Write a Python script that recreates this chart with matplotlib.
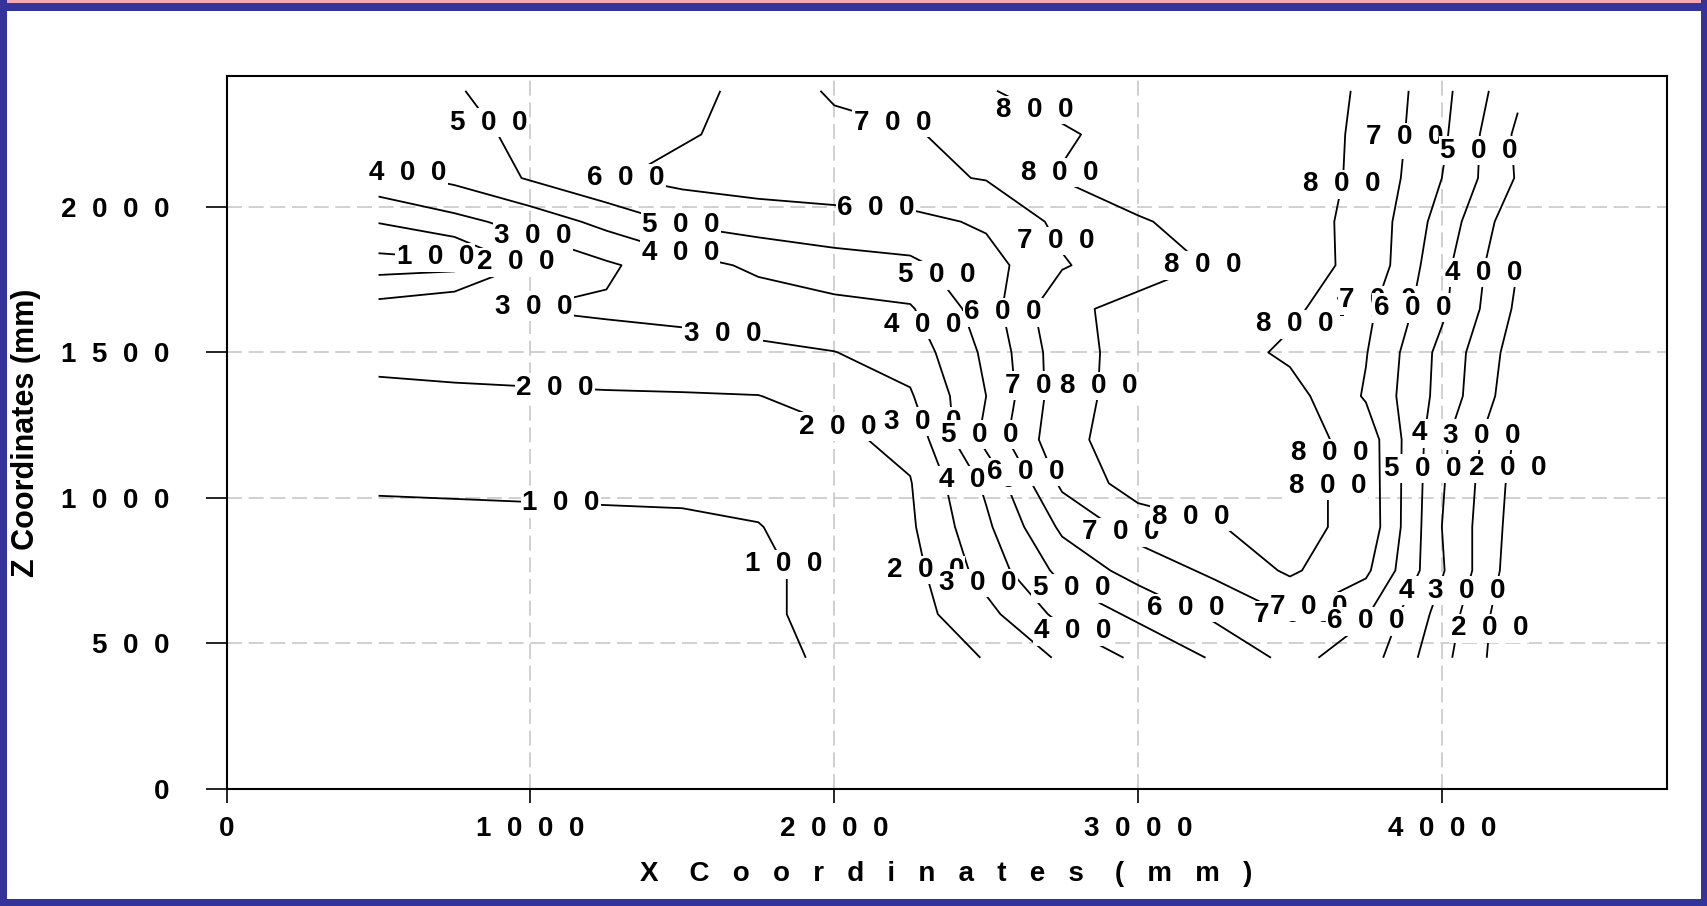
import numpy as np
import matplotlib
matplotlib.use("Agg")
import matplotlib.pyplot as plt
from matplotlib.patches import Rectangle

plt.rcParams['font.family'] = ['Liberation Sans', 'DejaVu Sans']
plt.rcParams['font.weight'] = 'bold'

# grid of the measured field (mm)
x_mm = [500, 750, 1000, 1250, 1500, 1750, 2000, 2250, 2500, 2750, 3000, 3250, 3500, 3750, 4000, 4250]
z_mm = [450, 600, 750, 900, 1050, 1200, 1350, 1500, 1650, 1800, 1950, 2100, 2250, 2400]

# temperature, one row per z value (bottom to top)
t_z450 = [40, 42, 44, 46, 48, 75, 115, 140, 205, 315, 420, 510, 630, 550, 330, 110]
t_z600 = [54, 56, 58, 60, 62, 88, 120, 160, 270, 430, 520, 620, 705, 610, 360, 110]
t_z750 = [68, 70, 72, 74, 76, 85, 125, 165, 340, 530, 640, 720, 815, 720, 410, 135]
t_z900 = [90, 91, 92, 93, 94, 97, 140, 185, 380, 620, 740, 795, 830, 770, 400, 150]
t_z1050 = [104, 105, 106, 107, 108, 125, 160, 195, 420, 720, 850, 845, 835, 765, 410, 160]
t_z1200 = [148, 150, 152, 155, 158, 165, 180, 225, 530, 775, 845, 850, 845, 760, 420, 185]
t_z1350 = [180, 183, 186, 190, 193, 198, 240, 290, 500, 760, 845, 855, 840, 690, 465, 230]
t_z1500 = [225, 238, 250, 262, 270, 282, 298, 340, 520, 760, 840, 850, 780, 705, 470, 250]
t_z1650 = [240, 285, 302, 312, 322, 345, 370, 390, 550, 785, 820, 830, 820, 725, 520, 280]
t_z1800 = [60, 70, 215, 285, 360, 420, 460, 480, 560, 690, 770, 805, 830, 780, 530, 300]
t_z1950 = [205, 270, 340, 430, 515, 545, 560, 570, 615, 725, 795, 820, 835, 775, 560, 330]
t_z2100 = [370, 425, 510, 590, 630, 650, 665, 680, 705, 805, 830, 845, 835, 785, 600, 390]
t_z2250 = [445, 480, 515, 550, 590, 630, 660, 690, 740, 790, 830, 850, 840, 785, 620, 380]
t_z2400 = [470, 495, 530, 560, 590, 610, 720, 760, 795, 830, 850, 850, 840, 790, 630, 420]

levels = [100, 200, 300, 400, 500, 600, 700, 800]

# rough spots where the labels sit
label_spots = [(814, 2251), (588, 2094), (1297, 2124), (1011, 1906), (688, 1843),
               (957, 1828), (1491, 1921), (1495, 1846), (1011, 1663), (1638, 1599),
               (1082, 1412), (1100, 996), (1799, 753), (2004, 1225), (2229, 1240),
               (2498, 1213), (2430, 1034), (2624, 1086), (2240, 738), (2462, 700),
               (2785, 697), (2785, 539), (3161, 629), (2946, 888), (3179, 963),
               (2194, 2300), (2659, 2330), (2140, 2045), (2695, 2131), (2749, 1895),
               (2326, 1757), (2516, 1629), (2240, 1569), (2680, 1386), (2849, 1386),
               (3294, 1850), (3591, 1539), (3652, 2082), (3789, 2225), (3914, 2236),
               (4093, 2195), (4100, 1779), (3692, 1682), (3760, 1690), (3914, 1652),
               (4020, 1225), (4100, 1225), (3645, 1139), (3710, 1150), (3914, 1101),
               (4219, 1101), (3602, 1041), (3995, 678), (4090, 678), (3509, 596),
               (3570, 610), (3789, 558), (4165, 551)]

temp = np.array([t_z450, t_z600, t_z750, t_z900, t_z1050, t_z1200, t_z1350,
                 t_z1500, t_z1650, t_z1800, t_z1950, t_z2100, t_z2250, t_z2400])


def spaced(v, sep='  '):
    return sep.join(str(int(v)))


fig = plt.figure(figsize=(17.08, 9.06), dpi=100)
W, H = 1708, 906


def band(x0, y0, w, h, color):
    # pixel box measured from the top-left corner
    fig.add_artist(Rectangle((x0 / W, 1 - (y0 + h) / H), w / W, h / H,
                             transform=fig.transFigure, color=color, lw=0, zorder=10))


ax = fig.add_axes([0.1327, 0.1296, 0.8431, 0.7862])

cs = ax.contour(x_mm, z_mm, temp, levels=levels, colors='black', linewidths=1.3)
texts = ax.clabel(cs, levels, fmt=spaced, manual=label_spots, inline=False, fontsize=20)
for t in texts:
    t.set_rotation(0)
    t.set_fontweight('bold')
    t.set_bbox(dict(facecolor='white', edgecolor='none', pad=1.0))
    t.set_zorder(5)

ax.set_xlim(0, 4740)
ax.set_ylim(0, 2450)

xt = [0, 1000, 2000, 3000, 4000]
zt = [0, 500, 1000, 1500, 2000]
ax.set_xticks(xt)
ax.set_xticklabels([spaced(v) for v in xt], fontsize=20, fontweight='bold')
ax.set_yticks(zt)
ax.set_yticklabels([spaced(v) for v in zt], fontsize=20, fontweight='bold')
ax.tick_params(axis='x', direction='out', length=10, width=1.2, pad=10)
ax.tick_params(axis='y', direction='out', length=15, width=1.2, pad=26)

for v in xt[1:]:
    ax.axvline(v, color='#c8c8c8', lw=1.2, dashes=(9, 4), zorder=0)
for v in zt[1:]:
    ax.axhline(v, color='#c8c8c8', lw=1.2, dashes=(9, 4), zorder=0)

for s in ax.spines.values():
    s.set_linewidth(1.5)
    s.set_color('black')

ax.set_xlabel('   '.join('X') + '    ' + '   '.join('Coordinates') + '    ' + '   '.join('(mm)'),
              fontsize=20, fontweight='bold')
ax.xaxis.set_label_coords(0.5, -0.102)
ax.set_ylabel('Z Coordinates (mm)', fontsize=22, fontweight='bold')
ax.yaxis.set_label_coords(-0.129, 0.5)

# blue frame round the picture
band(0, 0, W, 3, '#f2a8b0')
band(0, 3, W, 8, '#333399')
band(0, 0, 7, H, '#333399')
band(W - 7, 0, 7, H, '#333399')
band(0, H - 7, W, 7, '#333399')

fig.savefig('out.png', dpi=100, facecolor='white')
